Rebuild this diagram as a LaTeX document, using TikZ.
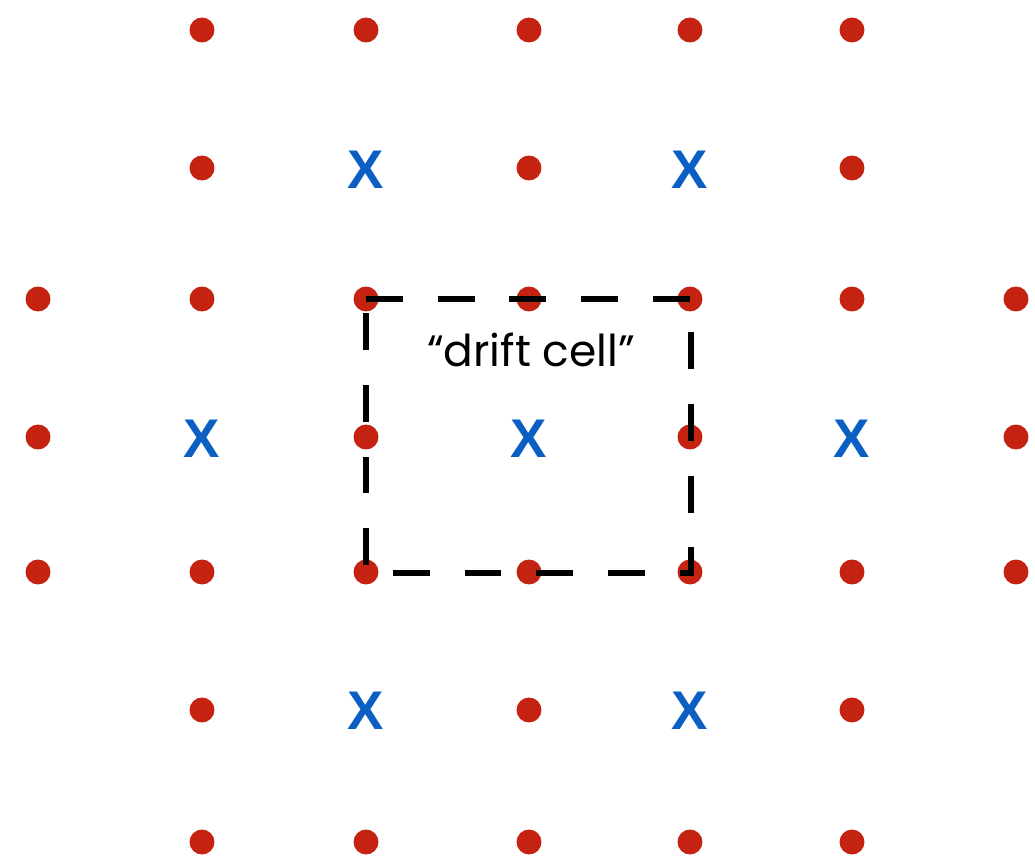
\documentclass[tikz,border=0pt]{standalone}
\usepackage{fontspec}
\setmainfont{Liberation Sans}
\newfontfamily\labelfont{Poppins}
\definecolor{siteRed}{HTML}{C42312}
\definecolor{vortexBlue}{HTML}{0B5FC2}
\begin{document}
\begin{tikzpicture}[x=0.02cm,y=-0.02cm,
  site/.style={circle,fill=siteRed,inner sep=0pt,minimum size=14.2pt},
  vortex/.style={text=vortexBlue,inner sep=0pt,font=\fontsize{31}{31}\selectfont\bfseries},
  cellbox/.style={draw=black,line width=3.4pt,dash pattern=on 21pt off 19.8pt}]
\useasboundingbox (0,0) rectangle (1035,861);
% lattice sites (red dots)
\foreach \x/\n in {202/a,366/b,529/c,690/d,852/e} {
  \node[site] (r1\n) at (\x,30) {};
  \node[site] (r7\n) at (\x,842) {};
}
\foreach \x/\n in {202/a,529/c,852/e} {
  \node[site] (r2\n) at (\x,168) {};
  \node[site] (r6\n) at (\x,710) {};
}
\foreach \x/\n in {38/z,202/a,366/b,529/c,690/d,852/e,1016/f} {
  \node[site] (r3\n) at (\x,299) {};
  \node[site] (r5\n) at (\x,572) {};
}
\foreach \x/\n in {38/z,366/b,690/d,1016/f} {
  \node[site] (r4\n) at (\x,437) {};
}
% vortex positions (blue crosses)
\foreach \x/\n in {366/b,690/d} {
  \node[vortex] (x2\n) at (\x,170) {X};
  \node[vortex] (x6\n) at (\x,711) {X};
}
\foreach \x/\n in {202/a,529/c,852/e} {
  \node[vortex] (x4\n) at (\x,439) {X};
}
% drift cell outline
\coordinate (c1) at (366,299);
\coordinate (c2) at (691,299);
\coordinate (c3) at (691,573);
\coordinate (c4) at (366,573);
\draw[cellbox] (c1) -- (c2) -- (c3) -- (c4) -- cycle;
\node[font=\labelfont\fontsize{25}{25}\selectfont,inner sep=0pt] (lbl) at (531,350) {“drift cell”};
\end{tikzpicture}
\end{document}
